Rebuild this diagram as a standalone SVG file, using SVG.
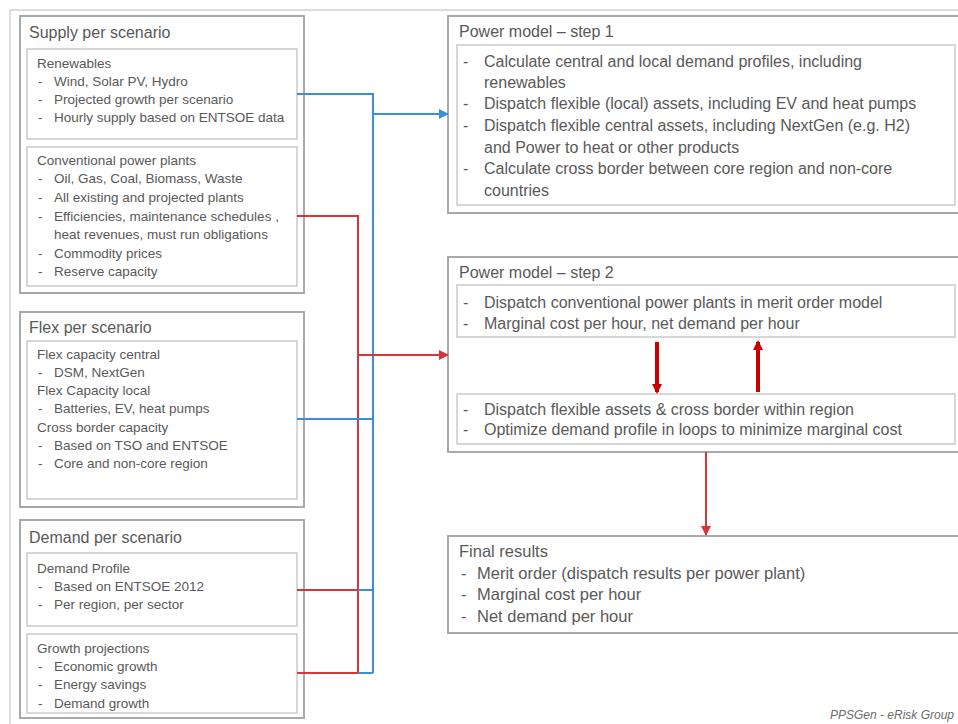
<svg xmlns="http://www.w3.org/2000/svg" width="958" height="724" viewBox="0 0 958 724">
<defs>
<style>
.frame{fill:none;stroke:#d2d2d2;stroke-width:1.5}
.ob{fill:#fff;stroke:#a9a9a9;stroke-width:2}
.ib{fill:#fff;stroke:#cacaca;stroke-width:1.5}
text{font-family:"Liberation Sans",Arial,sans-serif;fill:#595959}
.t{font-size:16px}
.s{font-size:13.5px}
.r{font-size:16px}
.f{font-size:16.5px}
.blue{fill:none;stroke:#3a8fd9;stroke-width:2}
.red{fill:none;stroke:#d8343a;stroke-width:2}
.thick{fill:none;stroke:#c80000;stroke-width:4}
.foot{font-size:12px;font-style:italic;fill:#6a6a6a}
</style>
<marker id="ab" viewBox="0 0 10 10" refX="9" refY="5" markerWidth="5" markerHeight="5" orient="auto" markerUnits="strokeWidth"><path d="M0,0L10,5L0,10z" fill="#3a8fd9"/></marker>
<marker id="ar" viewBox="0 0 10 10" refX="9" refY="5" markerWidth="5" markerHeight="5" orient="auto" markerUnits="strokeWidth"><path d="M0,0L10,5L0,10z" fill="#d8343a"/></marker>
<marker id="at" viewBox="0 0 10 10" refX="8" refY="5" markerWidth="2.5" markerHeight="2.5" orient="auto" markerUnits="strokeWidth"><path d="M0,0L10,5L0,10z" fill="#c80000"/></marker>
</defs>
<rect width="958" height="724" fill="#fff"/>
<rect class="frame" x="10" y="10" width="960" height="730"/>

<g id="supply">
<rect class="ob" x="20" y="16" width="284" height="277"/>
<text class="t" x="29" y="38">Supply per scenario</text>
<g id="renewables">
<rect class="ib" x="27" y="49" width="270" height="90"/>
<text class="s" x="37" y="68">Renewables</text>
<text class="s" x="38" y="86">-</text><text class="s" x="54" y="86">Wind, Solar PV, Hydro</text>
<text class="s" x="38" y="104">-</text><text class="s" x="54" y="104">Projected growth per scenario</text>
<text class="s" x="38" y="122">-</text><text class="s" x="54" y="122">Hourly supply based on ENTSOE data</text>
</g>
<g id="conventional">
<rect class="ib" x="27" y="147" width="270" height="139"/>
<text class="s" x="37" y="165">Conventional power plants</text>
<text class="s" x="38" y="183">-</text><text class="s" x="54" y="183">Oil, Gas, Coal, Biomass, Waste</text>
<text class="s" x="38" y="202">-</text><text class="s" x="54" y="202">All existing and projected plants</text>
<text class="s" x="38" y="221">-</text><text class="s" x="54" y="221">Efficiencies, maintenance schedules ,</text>
<text class="s" x="54" y="239">heat revenues, must run obligations</text>
<text class="s" x="38" y="258">-</text><text class="s" x="54" y="258">Commodity prices</text>
<text class="s" x="38" y="276">-</text><text class="s" x="54" y="276">Reserve capacity</text>
</g>
</g>

<g id="flex">
<rect class="ob" x="20" y="312" width="284" height="195"/>
<text class="t" x="29" y="333">Flex per scenario</text>
<rect class="ib" x="27" y="341" width="270" height="158"/>
<text class="s" x="37" y="359">Flex capacity central</text>
<text class="s" x="38" y="377">-</text><text class="s" x="54" y="377">DSM, NextGen</text>
<text class="s" x="37" y="395">Flex Capacity local</text>
<text class="s" x="38" y="413">-</text><text class="s" x="54" y="413">Batteries, EV, heat pumps</text>
<text class="s" x="37" y="432">Cross border capacity</text>
<text class="s" x="38" y="450">-</text><text class="s" x="54" y="450">Based on TSO and ENTSOE</text>
<text class="s" x="38" y="468">-</text><text class="s" x="54" y="468">Core and non-core region</text>
</g>

<g id="demand">
<rect class="ob" x="20" y="520" width="284" height="198"/>
<text class="t" x="29" y="543">Demand per scenario</text>
<g id="demandprofile">
<rect class="ib" x="27" y="553" width="270" height="73"/>
<text class="s" x="37" y="573">Demand Profile</text>
<text class="s" x="38" y="591">-</text><text class="s" x="54" y="591">Based on ENTSOE 2012</text>
<text class="s" x="38" y="609">-</text><text class="s" x="54" y="609">Per region, per sector</text>
</g>
<g id="growth">
<rect class="ib" x="27" y="634" width="270" height="79"/>
<text class="s" x="37" y="653">Growth projections</text>
<text class="s" x="38" y="671">-</text><text class="s" x="54" y="671">Economic growth</text>
<text class="s" x="38" y="689">-</text><text class="s" x="54" y="689">Energy savings</text>
<text class="s" x="38" y="708">-</text><text class="s" x="54" y="708">Demand growth</text>
</g>
</g>

<g id="step1">
<rect class="ob" x="448" y="16" width="520" height="197"/>
<text class="r" x="459" y="37">Power model – step 1</text>
<rect class="ib" x="457" y="45" width="498" height="160"/>
<text class="r" x="463" y="67">-</text><text class="r" x="484" y="67">Calculate central and local demand profiles, including</text>
<text class="r" x="484" y="88">renewables</text>
<text class="r" x="463" y="109">-</text><text class="r" x="484" y="109">Dispatch flexible (local) assets, including EV and heat pumps</text>
<text class="r" x="463" y="131">-</text><text class="r" x="484" y="131">Dispatch flexible central assets, including NextGen (e.g. H2)</text>
<text class="r" x="484" y="153">and Power to heat or other products</text>
<text class="r" x="463" y="174">-</text><text class="r" x="484" y="174">Calculate cross border between core region and non-core</text>
<text class="r" x="484" y="196">countries</text>
</g>

<g id="step2">
<rect class="ob" x="448" y="257" width="520" height="195"/>
<text class="r" x="459" y="278">Power model – step 2</text>
<rect class="ib" x="457" y="285" width="498" height="52"/>
<text class="r" x="463" y="308">-</text><text class="r" x="484" y="308">Dispatch conventional power plants in merit order model</text>
<text class="r" x="463" y="329">-</text><text class="r" x="484" y="329">Marginal cost per hour, net demand per hour</text>
<rect class="ib" x="457" y="394" width="498" height="50"/>
<text class="r" x="463" y="415">-</text><text class="r" x="484" y="415">Dispatch flexible assets &amp; cross border within region</text>
<text class="r" x="463" y="435">-</text><text class="r" x="484" y="435">Optimize demand profile in loops to minimize marginal cost</text>
</g>

<g id="final">
<rect class="ob" x="448" y="536" width="520" height="97"/>
<text class="f" x="459" y="557">Final results</text>
<text class="f" x="461" y="579">-</text><text class="f" x="477" y="579">Merit order (dispatch results per power plant)</text>
<text class="f" x="461" y="600">-</text><text class="f" x="477" y="600">Marginal cost per hour</text>
<text class="f" x="461" y="622">-</text><text class="f" x="477" y="622">Net demand per hour</text>
</g>

<g id="connectors">
<path class="red" d="M297,216H358V673"/>
<path class="red" d="M297,590H358"/>
<path class="red" d="M297,673H358"/>
<path class="blue" d="M297,94H373V673"/>
<path class="blue" d="M297,419H373"/>
<path class="blue" d="M358,590H373"/>
<path class="blue" d="M358,673H373"/>
<path class="blue" d="M373,114H448" marker-end="url(#ab)"/>
<path class="red" d="M358,355H448" marker-end="url(#ar)"/>
<path class="thick" d="M657,342V392" marker-end="url(#at)"/>
<path class="thick" d="M758,392V342" marker-end="url(#at)"/>
<path class="red" d="M706,452V535" marker-end="url(#ar)"/>
</g>

<text class="foot" x="954" y="719" text-anchor="end">PPSGen - eRisk Group</text>
</svg>
